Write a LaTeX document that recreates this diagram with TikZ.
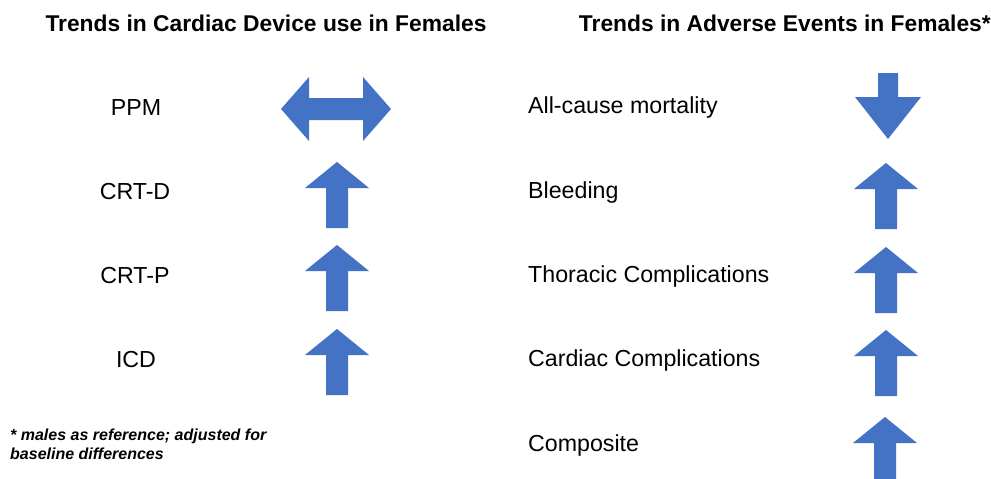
\documentclass[tikz,border=0pt]{standalone}
\usepackage{fontspec}
\setmainfont{Liberation Sans}
\definecolor{arrowblue}{RGB}{68,114,196}
\tikzset{
  lbl/.style={font=\fontsize{23.2}{27}\selectfont, inner sep=0pt},
  ttl/.style={font=\fontsize{22.8}{27}\selectfont\bfseries, inner sep=0pt},
  note/.style={font=\fontsize{16}{19}\selectfont\bfseries\itshape, inner sep=0pt, align=left},
  % block arrow pointing up, 66 high, centred on the pic origin
  uparrow/.pic={
    \fill[arrowblue] (-11,33) -- (-11,-7) -- (-32,-7) -- (0,-33) -- (32,-7) -- (11,-7) -- (11,33) -- cycle;
  },
  downarrow/.pic={
    \fill[arrowblue] (-10,-33) -- (-10,-9) -- (-33,-9) -- (0,33) -- (33,-9) -- (10,-9) -- (10,-33) -- cycle;
  },
  bothways/.pic={
    \fill[arrowblue] (-55,0) -- (-27,-32) -- (-27,-11) -- (27,-11) -- (27,-32) -- (55,0)
      -- (27,32) -- (27,11) -- (-27,11) -- (-27,32) -- cycle;
  }
}
\begin{document}
\begin{tikzpicture}[x=1pt,y=-1pt]
  \fill[white] (0,0) rectangle (991,479);
  \useasboundingbox (0,0) rectangle (991,479);

  % column headings
  \node[ttl] (ttlL) at (266,23) {Trends in Cardiac Device use in Females};
  \node[ttl, anchor=east] (ttlR) at (991,23) {Trends in Adverse Events in Females*};

  % device trends
  \node[lbl] (ppm) at (136,108) {PPM};
  \node[lbl] (crtd) at (135,192) {CRT-D};
  \node[lbl] (crtp) at (135,276) {CRT-P};
  \node[lbl] (icd) at (136,360) {ICD};

  \pic at (336,109) {bothways};
  \pic at (337,195) {uparrow};
  \pic at (337,278) {uparrow};
  \pic at (337,362) {uparrow};

  % adverse event trends
  \node[lbl, anchor=west] (mort) at (528,108) {All-cause mortality};
  \node[lbl, anchor=west] (bleed) at (528,192) {Bleeding};
  \node[lbl, anchor=west] (thor) at (528,276) {Thoracic Complications};
  \node[lbl, anchor=west] (card) at (528,360) {Cardiac Complications};
  \node[lbl, anchor=west] (comp) at (528,445) {Composite};

  \pic at (888,106) {downarrow};
  \pic at (886,196) {uparrow};
  \pic at (886,280) {uparrow};
  \pic at (886,363) {uparrow};
  \pic at (885,450) {uparrow};

  % footnote
  \node[note, anchor=north west] (fn) at (10,429) {* males as reference; adjusted for\\baseline differences};
\end{tikzpicture}
\end{document}
